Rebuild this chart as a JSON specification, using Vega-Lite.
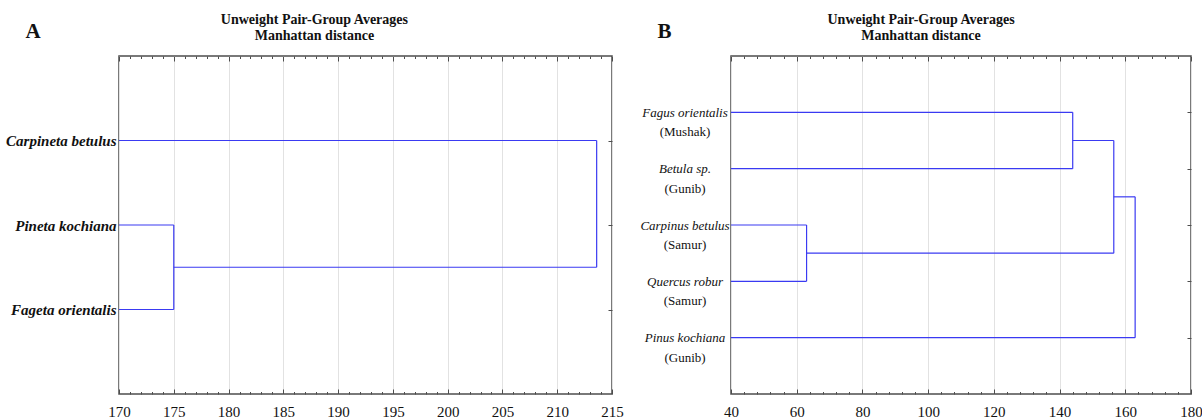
{
  "$schema": "https://vega.github.io/schema/vega-lite/v6.json",
  "padding": {"left": 4, "top": 12, "right": 0, "bottom": 0},
  "bounds": "flush",
  "spacing": 119,
  "config": {
    "font": "Liberation Serif",
    "view": {"stroke": "#4d4d4d", "strokeWidth": 1.5},
    "axis": {"domainColor": "#4d4d4d", "tickColor": "#4d4d4d", "gridColor": "#e2e2e2", "labelColor": "#111111", "labelFont": "Liberation Serif", "titleFont": "Liberation Serif"},
    "title": {"font": "Liberation Serif", "fontSize": 14, "fontWeight": "bold", "color": "#111111", "lineHeight": 16}
  },
  "datasets": {
    "a": [
      {"x1": 170, "x2": 213.6, "y1": 1, "y2": 1},
      {"x1": 170, "x2": 175, "y1": 2, "y2": 2},
      {"x1": 170, "x2": 175, "y1": 3, "y2": 3},
      {"x1": 175, "x2": 175, "y1": 2, "y2": 3},
      {"x1": 175, "x2": 213.6, "y1": 2.5, "y2": 2.5},
      {"x1": 213.6, "x2": 213.6, "y1": 1, "y2": 2.5}
    ],
    "b": [
      {"x1": 40, "x2": 144, "y1": 1, "y2": 1},
      {"x1": 40, "x2": 144, "y1": 2, "y2": 2},
      {"x1": 144, "x2": 144, "y1": 1, "y2": 2},
      {"x1": 40, "x2": 63, "y1": 3, "y2": 3},
      {"x1": 40, "x2": 63, "y1": 4, "y2": 4},
      {"x1": 63, "x2": 63, "y1": 3, "y2": 4},
      {"x1": 63, "x2": 156.5, "y1": 3.5, "y2": 3.5},
      {"x1": 144, "x2": 156.5, "y1": 1.5, "y2": 1.5},
      {"x1": 156.5, "x2": 156.5, "y1": 1.5, "y2": 3.5},
      {"x1": 156.5, "x2": 163, "y1": 2.5, "y2": 2.5},
      {"x1": 40, "x2": 163, "y1": 5, "y2": 5},
      {"x1": 163, "x2": 163, "y1": 2.5, "y2": 5}
    ]
  },
  "hconcat": [
    {
      "width": 493,
      "height": 338,
      "title": {"text": ["Unweight Pair-Group Averages", "Manhattan distance"], "frame": "bounds", "anchor": "middle", "offset": -23},
      "data": {"name": "a"},
      "layer": [
        {
          "mark": {"type": "rule", "color": "#3a3af2", "strokeWidth": 1.2},
          "encoding": {
            "x": {"field": "x1", "type": "quantitative", "scale": {"domain": [170, 215], "nice": false, "zero": false},
              "axis": {"orient": "bottom", "title": null, "values": [170,171,172,173,174,175,176,177,178,179,180,181,182,183,184,185,186,187,188,189,190,191,192,193,194,195,196,197,198,199,200,201,202,203,204,205,206,207,208,209,210,211,212,213,214,215],
                "labelExpr": "datum.value % 5 === 0 ? datum.label : ''", "labelFlush": false, "labelOverlap": false, "labelFontSize": 15, "labelPadding": 15,
                "tickSize": {"condition": {"test": "datum.value % 5 === 0", "value": -5}, "value": -2.5},
                "grid": true, "gridOpacity": {"condition": {"test": "datum.value % 5 === 0", "value": 1}, "value": 0}, "domain": false}},
            "x2": {"field": "x2"},
            "y": {"field": "y1", "type": "quantitative", "scale": {"domain": [0, 4], "reverse": true, "nice": false, "zero": false},
              "axis": {"orient": "left", "values": [1, 2, 3], "grid": false, "ticks": false, "tickSize": 0, "domain": false,
                "labelExpr": "datum.value === 1 ? 'Carpineta betulus' : datum.value === 2 ? 'Pineta kochiana' : 'Fageta orientalis'",
                "labelFontSize": 15, "labelFontStyle": "italic", "labelFontWeight": "bold", "labelPadding": 3,
                "title": "A", "titleAngle": 0, "titleX": -94, "titleY": -19, "titleAlign": "left", "titleBaseline": "alphabetic", "titleFontSize": 21, "titleFontWeight": "bold", "titleColor": "#111111"}},
            "y2": {"field": "y2"}
          }
        },
        {
          "mark": {"type": "rule", "opacity": 0},
          "encoding": {
            "x": {"field": "x1", "type": "quantitative",
              "axis": {"orient": "top", "title": null, "labels": false, "grid": false, "domain": false, "values": [170,171,172,173,174,175,176,177,178,179,180,181,182,183,184,185,186,187,188,189,190,191,192,193,194,195,196,197,198,199,200,201,202,203,204,205,206,207,208,209,210,211,212,213,214,215],
                "tickSize": {"condition": {"test": "datum.value % 5 === 0", "value": -5}, "value": -2.5}}},
            "x2": {"field": "x2"},
            "y": {"field": "y1", "type": "quantitative",
              "axis": {"orient": "right", "title": null, "labels": false, "grid": false, "domain": false, "values": [1, 2, 3], "tickSize": -4}},
            "y2": {"field": "y2"}
          }
        }
      ],
      "resolve": {"axis": {"x": "independent", "y": "independent"}}
    },
    {
      "width": 460,
      "height": 338,
      "title": {"text": ["Unweight Pair-Group Averages", "Manhattan distance"], "frame": "bounds", "anchor": "middle", "offset": -23},
      "data": {"name": "b"},
      "layer": [
        {
          "mark": {"type": "rule", "color": "#3a3af2", "strokeWidth": 1.2},
          "encoding": {
            "x": {"field": "x1", "type": "quantitative", "scale": {"domain": [40, 180], "nice": false, "zero": false},
              "axis": {"orient": "bottom", "title": null, "values": [40,44,48,52,56,60,64,68,72,76,80,84,88,92,96,100,104,108,112,116,120,124,128,132,136,140,144,148,152,156,160,164,168,172,176,180],
                "labelExpr": "datum.value % 20 === 0 ? datum.label : ''", "labelFlush": false, "labelOverlap": false, "labelFontSize": 15, "labelPadding": 15,
                "tickSize": {"condition": {"test": "datum.value % 20 === 0", "value": -5}, "value": -2.5},
                "grid": true, "gridOpacity": {"condition": {"test": "datum.value % 20 === 0", "value": 1}, "value": 0}, "domain": false}},
            "x2": {"field": "x2"},
            "y": {"field": "y1", "type": "quantitative", "scale": {"domain": [0, 6], "reverse": true, "nice": false, "zero": false},
              "axis": {"orient": "left", "values": [1, 2, 3, 4, 5], "grid": false, "ticks": false, "tickSize": 0, "domain": false,
                "labelExpr": "datum.value === 1 ? 'Fagus orientalis' : datum.value === 2 ? 'Betula sp.' : datum.value === 3 ? 'Carpinus betulus' : datum.value === 4 ? 'Quercus robur' : 'Pinus kochiana'",
                "labelFontSize": 13, "labelFontStyle": "italic", "labelAlign": "center", "labelBaseline": "middle", "labelPadding": 46.5,
                "title": "B", "titleAngle": 0, "titleX": -74, "titleY": -19, "titleAlign": "left", "titleBaseline": "alphabetic", "titleFontSize": 21, "titleFontWeight": "bold", "titleColor": "#111111"}},
            "y2": {"field": "y2"}
          }
        },
        {
          "mark": {"type": "rule", "opacity": 0},
          "encoding": {
            "x": {"field": "x1", "type": "quantitative",
              "axis": {"orient": "top", "title": null, "labels": false, "grid": false, "domain": false, "values": [40,44,48,52,56,60,64,68,72,76,80,84,88,92,96,100,104,108,112,116,120,124,128,132,136,140,144,148,152,156,160,164,168,172,176,180],
                "tickSize": {"condition": {"test": "datum.value % 20 === 0", "value": -5}, "value": -2.5}}},
            "x2": {"field": "x2"},
            "y": {"field": "y1", "type": "quantitative",
              "axis": {"orient": "left", "title": null, "values": [1, 2, 3, 4, 5], "grid": false, "ticks": false, "tickSize": 0, "domain": false,
                "labelExpr": "datum.value === 1 ? '(Mushak)' : datum.value === 2 ? '(Gunib)' : datum.value === 3 ? '(Samur)' : datum.value === 4 ? '(Samur)' : '(Gunib)'",
                "labelFontSize": 13, "labelAlign": "center", "labelBaseline": "middle", "labelPadding": 46.5, "labelOffset": 19.5}},
            "y2": {"field": "y2"}
          }
        },
        {
          "mark": {"type": "rule", "opacity": 0},
          "encoding": {
            "x": {"field": "x1", "type": "quantitative", "axis": null},
            "x2": {"field": "x2"},
            "y": {"field": "y1", "type": "quantitative",
              "axis": {"orient": "right", "title": null, "labels": false, "grid": false, "domain": false, "values": [1, 2, 3, 4, 5], "tickSize": -4}},
            "y2": {"field": "y2"}
          }
        }
      ],
      "resolve": {"axis": {"x": "independent", "y": "independent"}}
    }
  ]
}
